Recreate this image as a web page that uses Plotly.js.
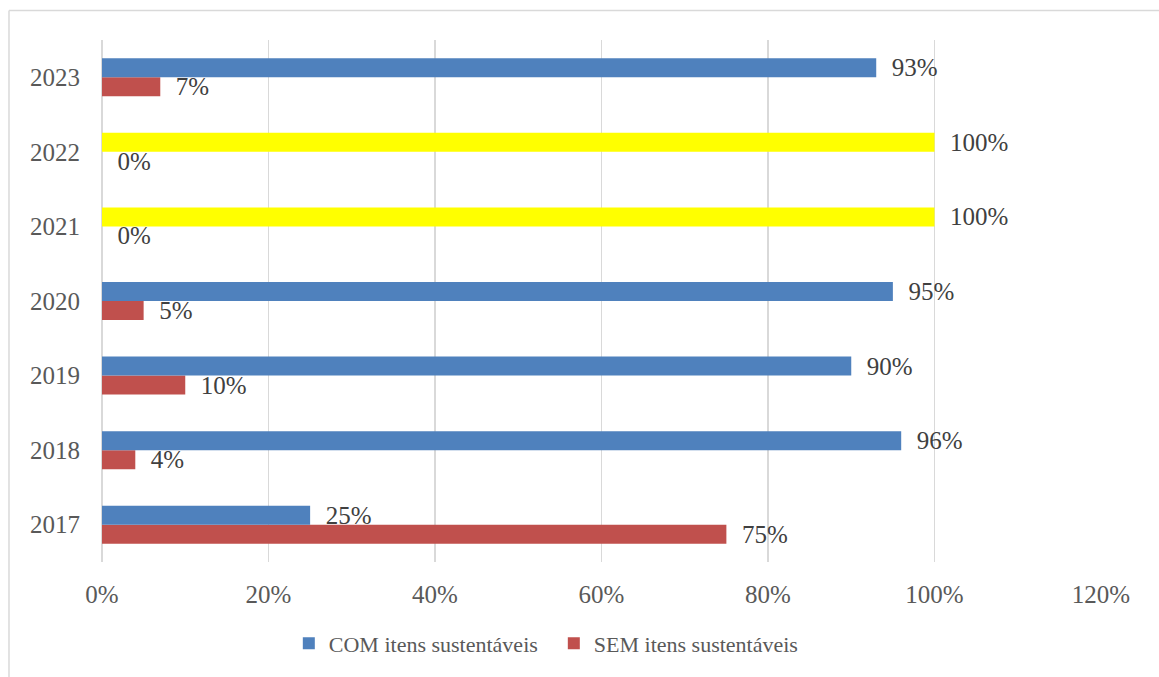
<!DOCTYPE html>
<html>
<head>
<meta charset="utf-8">
<script src="https://cdn.plot.ly/plotly-3.0.1.min.js"></script>
<style>html,body{margin:0;padding:0;background:#fff;}#chart{width:1159px;height:677px;}</style>
</head>
<body>
<div id="chart"></div>
<script>
const years = ['2017', '2018', '2019', '2020', '2021', '2022', '2023'];
const comValues = [0.25, 0.96, 0.90, 0.95, 1.00, 1.00, 0.93];
const semValues = [0.75, 0.04, 0.10, 0.05, 0.00, 0.00, 0.07];
const comColors = ['#4F81BD', '#4F81BD', '#4F81BD', '#4F81BD', '#FFFF00', '#FFFF00', '#4F81BD'];
const seriesNames = ['COM itens sustentáveis', 'SEM itens sustentáveis'];
const xTickVals = [0, 0.2, 0.4, 0.6, 0.8, 1.0, 1.2];
const xTickText = ['0%', '20%', '40%', '60%', '80%', '100%', '120%'];

const FONT = 'Liberation Serif, Times New Roman, serif';
const labelFont = {family: FONT, size: 25, color: '#404040'};

const semTrace = {
  type: 'bar', orientation: 'h', name: seriesNames[1],
  y: years, x: semValues,
  marker: {color: '#C0504D'},
  texttemplate: '\u00a0\u00a0%{x:.0%}', textposition: 'outside',
  textfont: labelFont, cliponaxis: false, constraintext: 'none',
  legendrank: 2, hoverinfo: 'none'
};
const comTrace = {
  type: 'bar', orientation: 'h', name: seriesNames[0],
  y: years, x: comValues,
  marker: {color: comColors},
  texttemplate: '\u00a0\u00a0%{x:.0%}', textposition: 'outside',
  textfont: labelFont, cliponaxis: false, constraintext: 'none',
  legendrank: 1, hoverinfo: 'none'
};

const layout = {
  width: 1159, height: 677,
  margin: {l: 102, r: 58, t: 40, b: 115},
  paper_bgcolor: '#ffffff', plot_bgcolor: '#ffffff',
  barmode: 'group', bargap: 0.49, bargroupgap: 0,
  font: {family: FONT, size: 22, color: '#595959'},
  showlegend: true,
  legend: {
    orientation: 'h', x: 0.187, xanchor: 'left', y: -0.116, yanchor: 'top',
    font: {family: FONT, size: 22, color: '#595959'},
    traceorder: 'normal', itemwidth: 30, entrywidth: 220
  },
  xaxis: {
    range: [0, 1.2], tickvals: xTickVals, ticktext: xTickText,
    showgrid: true, gridcolor: '#d9d9d9', gridwidth: 1.5,
    zeroline: true, zerolinecolor: '#d9d9d9', zerolinewidth: 1.5,
    showline: false, ticks: '', ticklabelstandoff: 15,
    tickfont: {family: FONT, size: 25, color: '#595959'},
    fixedrange: true
  },
  yaxis: {
    type: 'category', categoryorder: 'array', categoryarray: years,
    showgrid: false, zeroline: false, showline: false, ticks: '',
    ticklabelstandoff: 21,
    tickfont: {family: FONT, size: 25, color: '#595959'},
    fixedrange: true
  },
  shapes: [
    {type: 'line', xref: 'paper', yref: 'paper', x0: -0.0931, x1: 1.06, y0: 1.0566, y1: 1.0566,
     line: {color: '#d9d9d9', width: 1.5}},
    {type: 'line', xref: 'paper', yref: 'paper', x0: -0.0931, x1: -0.0931, y0: 1.0566, y1: -0.23,
     line: {color: '#d9d9d9', width: 1.5}}
  ]
};

Plotly.newPlot('chart', [semTrace, comTrace], layout, {displayModeBar: false, staticPlot: true});
</script>
</body>
</html>
